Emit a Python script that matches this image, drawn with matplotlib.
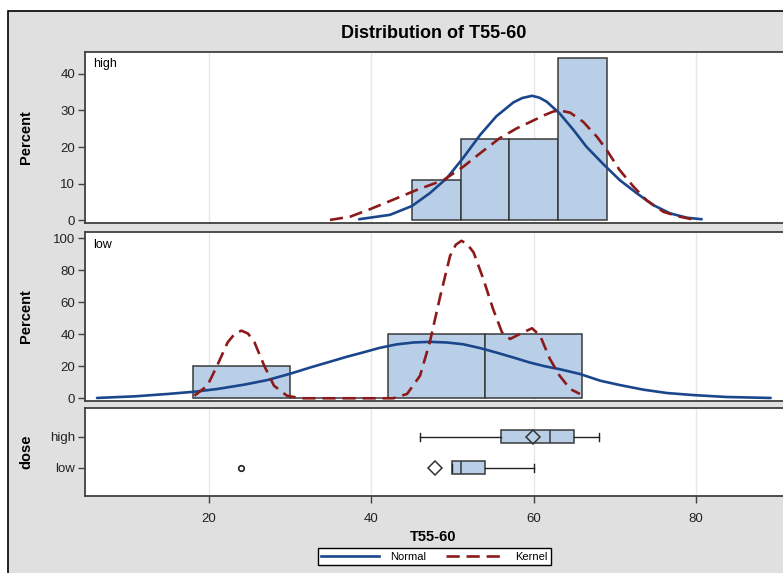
import numpy as np
import matplotlib
matplotlib.use("Agg")
import matplotlib.pyplot as plt
from matplotlib.patches import Rectangle
from matplotlib.lines import Line2D

plt.rcParams['font.family'] = ['Liberation Sans Narrow', 'Liberation Sans', 'DejaVu Sans']

# histogram bins (percent) per dose
high_edges = [45, 51, 57, 63, 69]
high_pct = [11.1, 22.2, 22.2, 44.4]
low_edges = [18, 30, 42, 54, 66]
low_pct = [20.0, 0.0, 40.0, 40.0]

# fitted curves
high_norm_x = [38.5, 42.3, 45.0, 47.2, 49.3, 51.3, 53.4, 55.4, 57.5, 58.6, 59.8, 60.7, 61.6, 63.2,
               64.9, 66.5, 68.6, 70.6, 72.7, 74.7, 76.8, 78.9, 80.7]
high_norm_y = [0.3, 1.5, 3.9, 7.4, 11.5, 17.0, 23.3, 28.4, 32.2, 33.4, 34.0, 33.5, 32.4, 29.2,
               24.7, 20.1, 15.3, 11.0, 7.4, 4.2, 1.9, 0.7, 0.3]
high_kern_x = [34.9, 37.4, 39.8, 43.1, 45.6, 48.9, 51.3, 53.4, 55.8, 57.9, 60.0, 61.3, 62.4, 63.2,
               64.5, 66.1, 67.8, 69.0, 70.6, 72.3, 73.9, 76.0, 78.0, 79.5]
high_kern_y = [0.1, 1.0, 3.0, 6.0, 8.3, 11.0, 14.6, 18.3, 22.4, 25.1, 27.3, 28.7, 29.7, 30.0,
               29.4, 26.9, 22.8, 19.2, 13.7, 9.2, 5.5, 2.3, 1.0, 0.3]
low_norm_x = [6.2, 10.8, 14.9, 18.2, 21.0, 24.3, 27.2, 30.1, 32.5, 35.0, 37.0, 39.0, 41.0, 43.1,
              45.2, 47.2, 49.3, 51.3, 53.4, 55.4, 57.5, 59.5, 61.4, 63.2, 65.7, 68.2, 70.6, 73.5,
              76.4, 79.7, 83.8, 89.2]
low_norm_y = [0.2, 1.2, 2.7, 4.1, 5.8, 8.5, 11.4, 15.5, 19.3, 23.0, 26.0, 28.7, 31.5, 33.7,
              34.9, 35.3, 34.9, 33.8, 31.4, 28.6, 25.5, 22.4, 20.0, 18.2, 15.2, 11.0, 8.3, 5.4,
              3.3, 2.0, 0.8, 0.2]
low_kern_x = [18.2, 19.8, 21.0, 22.3, 23.2, 24.0, 24.8, 25.6, 26.8, 28.0, 29.6, 31.3, 42.7, 44.4,
              46.0, 47.2, 48.5, 49.7, 50.4, 51.1, 51.8, 52.6, 53.8, 55.0, 56.1, 57.1, 58.3, 59.8,
              60.8, 62.0, 63.2, 64.5, 65.7]
low_kern_y = [1.6, 7.9, 20.4, 35.0, 40.5, 42.3, 40.5, 35.0, 20.4, 7.9, 1.6, 0.0, 0.0, 2.7,
              14.1, 35.0, 64.1, 89.0, 96.0, 98.5, 96.5, 91.2, 74.6, 55.8, 41.2, 37.1, 40.2, 43.8,
              39.1, 24.6, 14.1, 5.8, 2.7]

# box plot summary per dose
doses = ['low', 'high']
box_min = [50.0, 46.0]
box_q1 = [50.0, 56.0]
box_med = [51.0, 62.0]
box_q3 = [54.0, 65.0]
box_max = [60.0, 68.0]
box_mean = [47.8, 59.9]
box_out = [[24.0], []]

W, H = 783, 573
fill = '#B9CFE7'
edge = '#3A3A3A'
blue = '#1A468C'
red = '#8C1A1A'
grid = '#E6E6E6'
sans = ['Liberation Sans', 'DejaVu Sans']

fig = plt.figure(figsize=(W / 100, H / 100), dpi=100)
fig.patch.set_facecolor('white')
fig.patches.append(Rectangle((8 / W, -0.1), 1.2, 1.1 - 11 / H, transform=fig.transFigure,
                             facecolor='#E0E0E0', edgecolor='black', linewidth=1.2, zorder=-5))


def ax_at(top, bottom):
    left, right = 85, 795
    return fig.add_axes([left / W, 1 - bottom / H, (right - left) / W, (bottom - top) / H])


ax1 = ax_at(51.5, 223.5)
ax2 = ax_at(232, 401)
ax3 = ax_at(408, 496)

xlim = (4.72, 92.2)
for ax in (ax1, ax2, ax3):
    ax.set_zorder(2)
    ax.set_facecolor('white')
    ax.set_xlim(*xlim)
    ax.set_xticks([20, 40, 60, 80])
    for x in [20, 40, 60, 80]:
        ax.axvline(x, color=grid, lw=1, zorder=0)
    for s in ax.spines.values():
        s.set_color('#404040')
        s.set_linewidth(1.3)
    ax.tick_params(axis='both', length=5, width=1, color='#404040', labelsize=9.5, colors='#222222')
    ax.tick_params(axis='y', pad=2)

for ax in (ax1, ax2):
    ax.tick_params(axis='x', bottom=False, labelbottom=False)

dash = (0, (5, 2.6))


def panel(ax, edges, pct, nx, ny, kx, ky, label):
    e = np.array(edges)
    ax.bar(e[:-1], pct, width=np.diff(e), align='edge', color=fill, edgecolor=edge,
           linewidth=1.1, zorder=2)
    ax.plot(nx, ny, color=blue, lw=1.9, zorder=3, solid_capstyle='round')
    ax.plot(kx, ky, color=red, lw=1.9, ls=dash, zorder=3)
    ax.text(0.012, 0.96, label, transform=ax.transAxes, ha='left', va='top', fontsize=9,
            family=sans)
    ax.set_ylabel('Percent', fontsize=10.5, fontweight='bold', family=sans)
    ax.yaxis.set_label_coords(-0.073, 0.5)


panel(ax1, high_edges, high_pct, high_norm_x, high_norm_y, high_kern_x, high_kern_y, 'high')
ax1.set_ylim(-0.87, 46.1)
ax1.set_yticks([0, 10, 20, 30, 40])

panel(ax2, low_edges, low_pct, low_norm_x, low_norm_y, low_kern_x, low_kern_y, 'low')
ax2.set_ylim(-1.7, 104)
ax2.set_yticks([0, 20, 40, 60, 80, 100])

stats = []
for i, d in enumerate(doses):
    stats.append(dict(label=d, whislo=box_min[i], q1=box_q1[i], med=box_med[i], q3=box_q3[i],
                      whishi=box_max[i], mean=box_mean[i], fliers=box_out[i]))
ax3.bxp(stats, positions=[0, 1], widths=0.42, orientation='horizontal', patch_artist=True,
        showmeans=True, capwidths=0.26,
        boxprops=dict(facecolor=fill, edgecolor=edge, linewidth=1.1),
        medianprops=dict(color=edge, linewidth=1.1),
        whiskerprops=dict(color='#222222', linewidth=1),
        capprops=dict(color='#222222', linewidth=1),
        meanprops=dict(marker='D', markersize=7.5, markerfacecolor='none',
                       markeredgecolor='#333333', markeredgewidth=1.1),
        flierprops=dict(marker='o', markersize=4, markerfacecolor='none',
                        markeredgecolor='#222222', markeredgewidth=1.2))
ax3.set_ylim(-0.913, 1.926)
ax3.set_yticks([0, 1])
ax3.set_yticklabels(doses, family=sans)
ax3.set_xlim(*xlim)
ax3.tick_params(axis='x', pad=7)
ax3.set_ylabel('dose', fontsize=10.5, fontweight='bold', family=sans)
ax3.yaxis.set_label_coords(-0.073, 0.5)

fig.text(433.5 / W, 1 - 34 / H, 'Distribution of T55-60', ha='center', va='center',
         fontsize=13, fontweight='bold')
fig.text(433 / W, 1 - 537 / H, 'T55-60', ha='center', va='center', fontsize=10.5, fontweight='bold')

handles = [Line2D([], [], color=blue, lw=1.9), Line2D([], [], color=red, lw=1.9, ls=dash)]
leg = fig.legend(handles, ['Normal', 'Kernel'], loc='center', ncol=2,
                 bbox_to_anchor=(434.5 / W, 1 - 556.5 / H), fontsize=8, frameon=True,
                 fancybox=False, edgecolor='black', framealpha=1, handlelength=5.2,
                 borderpad=0.3, columnspacing=1.8, handletextpad=1.0)
leg.get_frame().set_linewidth(1)

fig.savefig('out.png', dpi=100)
